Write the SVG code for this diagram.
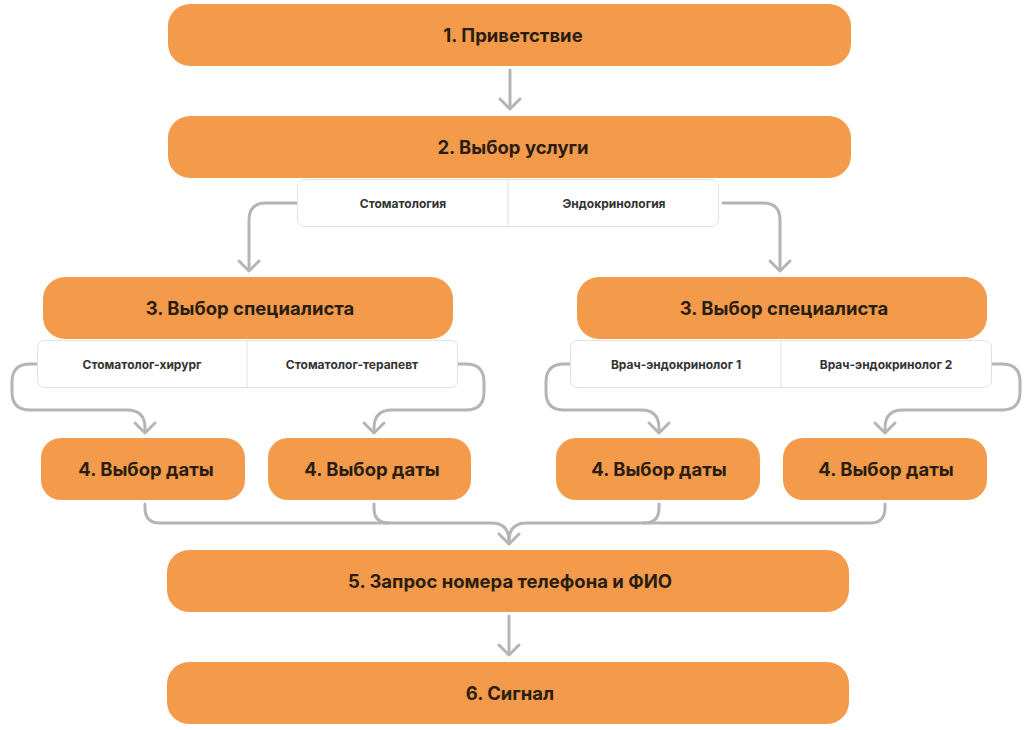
<svg xmlns="http://www.w3.org/2000/svg" width="1024" height="730" viewBox="0 0 1024 730">
<style>
.node{fill:#F39B4B}
.lbl{font-family:Inter,"Liberation Sans",sans-serif;font-weight:700;font-size:18.5px;fill:#2a1e12;text-anchor:middle;dominant-baseline:central}
.opt{fill:#fff;stroke:#e2e2e2;stroke-width:1}
.div{stroke:#e2e2e2;stroke-width:1}
.olbl{font-family:Inter,"Liberation Sans",sans-serif;font-weight:700;font-size:12px;fill:#333;text-anchor:middle;dominant-baseline:central}
.c{fill:none;stroke:#b5b5b5;stroke-width:3;stroke-linecap:round;stroke-linejoin:round}
</style>
<defs>
<path id="chev" d="M-10,-10 L0,0 L10,-10" class="c"/>
</defs>
<rect width="1024" height="730" fill="#fff"/>
<g id="connectors">
<path class="c" d="M510,70 V108"/>
<use href="#chev" x="510" y="109"/>
<path class="c" d="M297,203 H266 Q249,203 249,220 V270"/>
<use href="#chev" x="249" y="271"/>
<path class="c" d="M723,203 H763 Q780,203 780,220 V270"/>
<use href="#chev" x="780" y="271"/>
<path class="c" d="M37,364 H30 Q12,364 12,382 V392 Q12,410 30,410 H127 Q145,410 145,428 V432"/>
<use href="#chev" x="145" y="433"/>
<path class="c" d="M458,364 H466 Q484,364 484,382 V392 Q484,410 466,410 H392 Q374,410 374,428 V432"/>
<use href="#chev" x="374" y="433"/>
<path class="c" d="M570,364 H564 Q546,364 546,382 V392 Q546,410 564,410 H641 Q659,410 659,428 V432"/>
<use href="#chev" x="659" y="433"/>
<path class="c" d="M992,364 H1002 Q1020,364 1020,382 V392 Q1020,410 1002,410 H903 Q885,410 885,428 V432"/>
<use href="#chev" x="885" y="433"/>
<path class="c" d="M145,504 V508 Q145,523 160,523 H491 Q509,523 509,541 V543"/>
<path class="c" d="M374,504 V508 Q374,523 389,523"/>
<path class="c" d="M659,504 V508 Q659,523 644,523"/>
<path class="c" d="M885,504 V508 Q885,523 870,523 H527 Q509,523 509,541"/>
<use href="#chev" x="509" y="544"/>
<path class="c" d="M509,616 V654"/>
<use href="#chev" x="509" y="655"/>
</g>
<g id="n1"><rect class="node" x="168" y="4" width="683" height="62" rx="22"/><text class="lbl" x="513" y="35">1. Приветствие</text></g>
<g id="n2"><rect class="node" x="168" y="116" width="683" height="62" rx="22"/><text class="lbl" x="513" y="147">2. Выбор услуги</text></g>
<g id="opt2"><rect class="opt" x="297.5" y="179.5" width="421" height="47" rx="7"/><line class="div" x1="508" y1="180" x2="508" y2="226"/><text class="olbl" x="403" y="203">Стоматология</text><text class="olbl" x="614" y="203">Эндокринология</text></g>
<g id="n3a"><rect class="node" x="43" y="277" width="410" height="62" rx="22"/><text class="lbl" x="250" y="308">3. Выбор специалиста</text></g>
<g id="n3b"><rect class="node" x="577" y="277" width="410" height="62" rx="22"/><text class="lbl" x="784" y="308">3. Выбор специалиста</text></g>
<g id="opt3a"><rect class="opt" x="37.5" y="340.5" width="420" height="47" rx="7"/><line class="div" x1="247" y1="341" x2="247" y2="387"/><text class="olbl" x="142" y="364">Стоматолог-хирург</text><text class="olbl" x="352" y="364">Стоматолог-терапевт</text></g>
<g id="opt3b"><rect class="opt" x="570.5" y="340.5" width="421" height="47" rx="7"/><line class="div" x1="781" y1="341" x2="781" y2="387"/><text class="olbl" x="676" y="364">Врач-эндокринолог 1</text><text class="olbl" x="886" y="364">Врач-эндокринолог 2</text></g>
<g id="n4a"><rect class="node" x="41" y="438" width="204" height="62" rx="20"/><text class="lbl" x="146" y="469">4. Выбор даты</text></g>
<g id="n4b"><rect class="node" x="268" y="438" width="203" height="62" rx="20"/><text class="lbl" x="372" y="469">4. Выбор даты</text></g>
<g id="n4c"><rect class="node" x="556" y="438" width="204" height="62" rx="20"/><text class="lbl" x="659" y="469">4. Выбор даты</text></g>
<g id="n4d"><rect class="node" x="783" y="438" width="204" height="62" rx="20"/><text class="lbl" x="886" y="469">4. Выбор даты</text></g>
<g id="n5"><rect class="node" x="167" y="550" width="682" height="62" rx="22"/><text class="lbl" x="510" y="581">5. Запрос номера телефона и ФИО</text></g>
<g id="n6"><rect class="node" x="167" y="662" width="682" height="62" rx="22"/><text class="lbl" x="510" y="693">6. Сигнал</text></g>
</svg>
